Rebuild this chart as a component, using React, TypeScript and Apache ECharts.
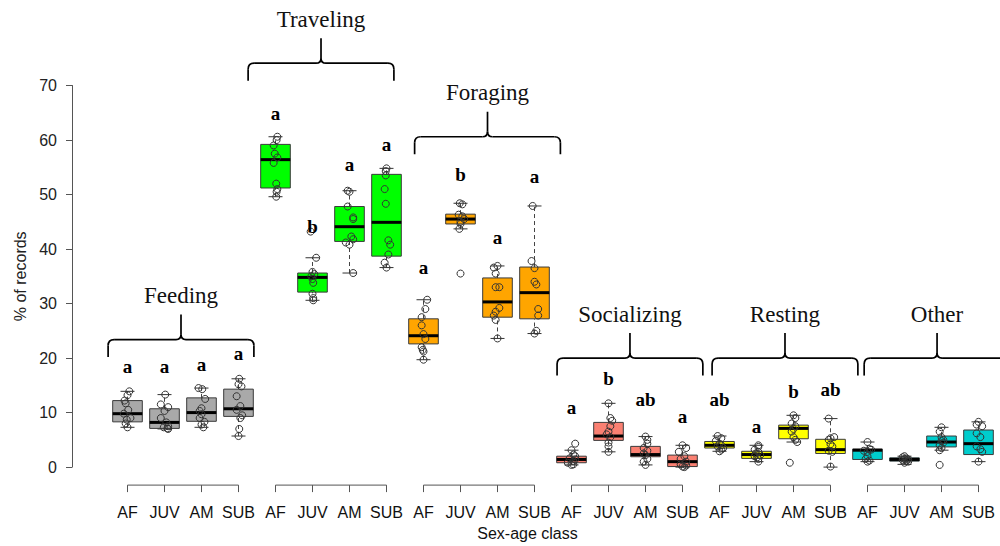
import React, { useEffect, useRef } from "react";
import * as echarts from "echarts";

const groups = ["Feeding", "Traveling", "Foraging", "Socializing", "Resting", "Other"];
const classes = ["AF", "JUV", "AM", "SUB"];
const groupColors = ["#A9A9A9", "#00FF00", "#FFA500", "#FA8072", "#FFFF00", "#00CDCD"];

const yTicks = [0, 10, 20, 30, 40, 50, 60, 70];

// [lower whisker, Q1, median, Q3, upper whisker] for each box, in order
const feedingStats = [
  [7.3, 8.3, 9.8, 12.2, 13.9],
  [7.0, 7.1, 8.2, 10.7, 13.3],
  [7.3, 8.4, 10.0, 12.7, 14.5],
  [5.7, 9.3, 10.7, 14.3, 16.2],
];
const travelingStats = [
  [49.6, 51.2, 56.4, 59.2, 60.6],
  [30.6, 32.1, 34.8, 35.6, 38.4],
  [35.6, 41.4, 44.1, 47.8, 50.7],
  [36.6, 38.7, 44.9, 53.7, 54.8],
];
const foragingStats = [
  [19.7, 22.6, 24.1, 27.2, 30.7],
  [43.7, 44.6, 45.5, 46.4, 48.4],
  [23.6, 27.5, 30.3, 34.7, 36.9],
  [24.5, 27.2, 32.0, 36.7, 47.9],
];
const socializingStats = [
  [0.4, 0.8, 1.4, 2.0, 3.1],
  [2.8, 4.9, 5.7, 8.2, 11.7],
  [0.4, 1.9, 2.3, 3.8, 5.6],
  [0.0, 0.1, 1.0, 2.2, 4.0],
];
const restingStats = [
  [2.9, 3.5, 4.0, 4.7, 5.7],
  [1.0, 1.6, 2.3, 2.9, 4.0],
  [4.6, 5.2, 7.1, 7.7, 9.5],
  [0.0, 2.5, 3.2, 5.1, 8.9],
];
const otherStats = [
  [1.0, 1.4, 3.1, 3.3, 4.6],
  [0.5, 1.1, 1.4, 1.7, 2.0],
  [3.1, 3.7, 4.6, 5.7, 7.3],
  [1.0, 2.3, 4.3, 6.8, 8.3],
];

// significance letters and their heights (% of records)
const letters = [
  "a", "a", "a", "a",
  "a", "b", "a", "a",
  "a", "b", "a", "a",
  "a", "b", "ab", "a",
  "ab", "a", "b", "ab",
  "", "", "", "",
];
const letterY = [
  18.5, 18.5, 18.8, 20.8,
  64.9, 44.1, 55.6, 59.2,
  36.7, 53.6, 42.2, 53.3,
  10.9, 16.2, 12.4, 9.3,
  12.4, 7.5, 13.8, 14.3,
  0, 0, 0, 0,
];

// individual records: [value, horizontal jitter (fraction of a slot)]
const points = [
  [[13.9, 0.05], [13.2, 0.0], [12.2, -0.08], [11.7, -0.05], [10.5, 0.02], [9.8, -0.1], [9.0, 0.08], [8.7, -0.02], [8.0, -0.05], [7.3, 0.0]],
  [[13.3, 0.02], [11.5, -0.1], [11.0, 0.1], [10.3, 0.0], [9.0, -0.1], [8.2, 0.05], [7.5, 0.1], [7.3, -0.02], [7.1, 0.08], [7.0, 0.1]],
  [[14.5, -0.08], [14.3, 0.02], [12.5, 0.1], [10.8, 0.0], [10.3, -0.05], [9.7, 0.0], [9.0, -0.05], [8.3, 0.08], [7.8, 0.0], [7.3, 0.05]],
  [[16.2, 0.02], [15.2, 0.0], [14.8, 0.08], [13.0, -0.05], [11.2, 0.05], [10.5, -0.05], [9.5, 0.1], [9.0, 0.05], [7.0, 0.02], [5.7, 0.0]],
  [[60.6, 0.05], [60.0, 0.03], [59.0, -0.05], [57.5, -0.02], [56.8, 0.05], [55.8, -0.05], [52.0, 0.02], [51.0, 0.05], [50.5, 0.03], [49.6, 0.02]],
  [[43.2, -0.05], [38.4, 0.1], [35.8, 0.0], [35.4, 0.05], [35.0, -0.03], [34.5, 0.0], [33.8, 0.02], [31.8, 0.0], [31.0, 0.02], [30.6, 0.02]],
  [[50.7, -0.05], [50.5, 0.0], [47.8, -0.05], [45.8, 0.1], [45.5, 0.1], [42.3, 0.05], [41.8, 0.1], [41.2, -0.1], [40.8, 0.0], [35.6, 0.1]],
  [[54.8, 0.0], [54.3, -0.02], [53.5, -0.02], [51.0, -0.05], [48.3, -0.02], [41.6, 0.05], [40.8, 0.1], [39.0, 0.05], [37.5, -0.05], [36.6, 0.0]],
  [[30.7, 0.1], [29.0, 0.05], [27.5, -0.05], [26.0, -0.05], [24.4, 0.0], [23.5, 0.05], [22.0, -0.05], [21.5, -0.02], [21.2, 0.0], [19.7, 0.0]],
  [[48.4, -0.02], [48.2, 0.05], [46.3, -0.05], [46.0, 0.05], [45.5, 0.1], [45.0, 0.0], [44.6, 0.0], [43.7, -0.03], [35.5, 0.0]],
  [[36.9, 0.0], [36.6, -0.1], [35.5, -0.05], [33.0, -0.05], [33.0, 0.05], [29.2, 0.05], [28.5, -0.05], [27.8, -0.1], [27.0, -0.05], [23.6, 0.0]],
  [[47.9, -0.05], [37.8, -0.08], [36.5, 0.0], [34.0, 0.0], [33.5, 0.05], [29.0, 0.1], [27.8, 0.1], [25.0, 0.05], [24.5, 0.0]],
  [[4.3, 0.1], [3.1, 0.0], [2.3, 0.05], [2.0, 0.1], [1.6, -0.05], [1.4, 0.1], [1.1, 0.05], [0.8, -0.1], [0.5, 0.05], [0.4, 0.0]],
  [[11.7, 0.0], [9.0, 0.05], [8.5, 0.1], [7.5, 0.05], [6.5, 0.0], [6.0, -0.05], [5.5, 0.05], [4.5, 0.0], [3.8, 0.0], [2.8, 0.0]],
  [[5.6, 0.0], [5.0, 0.05], [4.3, 0.05], [3.5, -0.05], [3.0, 0.05], [2.5, -0.05], [2.2, 0.0], [1.5, 0.05], [1.0, -0.05], [0.4, 0.0]],
  [[4.0, 0.0], [3.5, 0.1], [2.8, -0.1], [2.0, 0.05], [1.5, -0.05], [1.0, 0.1], [0.5, -0.05], [0.3, 0.1], [0.1, 0.0], [0.0, 0.05]],
  [[5.7, -0.05], [5.3, 0.05], [4.8, -0.1], [4.3, 0.0], [4.0, 0.05], [3.8, -0.05], [3.5, 0.1], [3.2, 0.05], [2.9, 0.0]],
  [[4.0, 0.05], [3.7, 0.05], [3.2, -0.05], [2.8, 0.05], [2.5, -0.02], [2.2, 0.1], [2.0, -0.05], [1.8, 0.02], [1.5, 0.05], [1.0, 0.05]],
  [[9.5, 0.0], [9.0, 0.05], [8.0, -0.05], [7.5, 0.05], [7.0, 0.0], [6.5, -0.05], [5.5, 0.0], [5.0, 0.05], [4.6, 0.1], [0.8, -0.1]],
  [[8.9, -0.05], [5.5, 0.1], [5.3, 0.0], [5.0, -0.05], [4.2, 0.0], [3.8, 0.05], [3.0, -0.05], [2.8, 0.05], [0.1, 0.0]],
  [[4.6, 0.0], [3.3, 0.05], [3.2, 0.1], [3.0, -0.1], [2.8, 0.0], [2.0, 0.0], [1.5, -0.05], [1.2, 0.05], [1.0, 0.0]],
  [[2.0, 0.0], [1.8, -0.05], [1.6, 0.05], [1.5, 0.0], [1.4, 0.1], [1.3, -0.05], [1.2, 0.05], [1.0, 0.1], [0.8, 0.0]],
  [[7.3, 0.0], [6.5, -0.05], [5.5, 0.0], [5.0, 0.05], [4.8, 0.0], [4.5, 0.05], [4.0, -0.05], [3.5, 0.0], [3.1, -0.05], [0.4, -0.05]],
  [[8.3, 0.0], [7.8, -0.05], [7.5, 0.1], [6.2, -0.05], [5.5, 0.05], [3.8, -0.05], [3.3, 0.05], [2.8, 0.1], [1.0, 0.0]],
];

// group braces: centre (slot index, slot 0 is an empty pad) and height of the bar (% of records)
const braceCenter = [2.446, 6.23, 10.73, 14.58, 18.77, 22.88];
const braceLevel = [23.4, 74.1, 60.6, 20.0, 20.0, 20.0];

const SANS = "'Liberation Sans', Arial, sans-serif";
const SERIF = "'Liberation Serif', 'Times New Roman', serif";

export default function App() {
  const ref = useRef<HTMLDivElement>(null);

  useEffect(() => {
    const chart = echarts.init(ref.current as HTMLDivElement, null, { renderer: "svg" });

    const allStats = [
      ...feedingStats,
      ...travelingStats,
      ...foragingStats,
      ...socializingStats,
      ...restingStats,
      ...otherStats,
    ];
    const xLabels = [""].concat(groups.flatMap(() => classes));
    const boxData = allStats.map((s, i) => [i + 1, ...s]);

    const pointList: number[][] = [];
    points.forEach((arr, i) => arr.forEach((p) => pointList.push([i + 1, p[0], p[1]])));

    const letterList: any[] = [];
    letters.forEach((l, i) => {
      if (l) letterList.push({ value: [i + 1, letterY[i]], name: l });
    });

    const braceData = braceCenter.map((c, g) => [Math.floor(c), braceLevel[g]]);
    const segData = groups.map((_, g) => [4 * g + 1, 0]);

    chart.setOption({
      animation: false,
      backgroundColor: "#ffffff",
      grid: { left: 72, right: 3, top: 85.5, bottom: 74, containLabel: false },
      xAxis: {
        type: "category",
        data: xLabels,
        boundaryGap: true,
        axisLine: { show: false },
        axisTick: { show: false },
        splitLine: { show: false },
        axisLabel: {
          interval: 0,
          margin: 37,
          fontSize: 16,
          color: "#111",
          fontFamily: SANS,
        },
        name: "Sex-age class",
        nameLocation: "middle",
        nameGap: 54,
        nameTextStyle: { fontSize: 16, color: "#111", fontFamily: SANS, padding: [0, 14, 0, 0] },
      },
      yAxis: {
        type: "value",
        min: yTicks[0],
        max: yTicks[yTicks.length - 1],
        interval: 10,
        axisLine: { show: true, lineStyle: { color: "#555", width: 1 } },
        axisTick: { show: true, length: 6, lineStyle: { color: "#555" } },
        splitLine: { show: false },
        axisLabel: { fontSize: 16, color: "#222", margin: 15, fontFamily: SANS },
        name: "% of records",
        nameLocation: "middle",
        nameRotate: 90,
        nameGap: 42,
        nameTextStyle: { fontSize: 16, color: "#222", fontFamily: SANS },
      },
      series: [
        {
          type: "custom",
          name: "boxes",
          data: boxData,
          encode: { x: 0, y: [1, 2, 3, 4, 5] },
          z: 2,
          renderItem: (params: any, api: any) => {
            const idx = params.dataIndex + 1;
            const s = allStats[params.dataIndex];
            const x = api.coord([idx, s[2]])[0];
            const hw = api.size([1, 0])[0] * 0.4;
            const y = s.map((v) => api.coord([idx, v])[1]);
            const color = groupColors[Math.floor(params.dataIndex / 4)];
            const dash = { stroke: "#444", lineWidth: 1, lineDash: [4, 3] };
            const cap = { stroke: "#333", lineWidth: 1 };
            return {
              type: "group",
              children: [
                { type: "line", shape: { x1: x, y1: y[3], x2: x, y2: y[4] }, style: dash },
                { type: "line", shape: { x1: x, y1: y[0], x2: x, y2: y[1] }, style: dash },
                { type: "line", shape: { x1: x - 7, y1: y[4], x2: x + 7, y2: y[4] }, style: cap },
                { type: "line", shape: { x1: x - 7, y1: y[0], x2: x + 7, y2: y[0] }, style: cap },
                {
                  type: "rect",
                  shape: { x: x - hw, y: y[3], width: 2 * hw, height: Math.max(1, y[1] - y[3]) },
                  style: { fill: color, stroke: "#3a3a3a", lineWidth: 1 },
                },
                { type: "line", shape: { x1: x - hw, y1: y[2], x2: x + hw, y2: y[2] }, style: { stroke: "#000", lineWidth: 3 } },
              ],
            };
          },
        },
        {
          type: "custom",
          name: "records",
          data: pointList,
          encode: { x: 0, y: 1 },
          z: 3,
          renderItem: (params: any, api: any) => {
            const p = pointList[params.dataIndex];
            const c = api.coord([p[0], p[1]]);
            const bw = api.size([1, 0])[0];
            return {
              type: "circle",
              shape: { cx: c[0] + p[2] * bw, cy: c[1], r: 3.5 },
              style: { fill: "none", stroke: "#333", lineWidth: 1 },
            };
          },
        },
        {
          type: "custom",
          name: "letters",
          data: letterList,
          encode: { x: 0, y: 1 },
          z: 4,
          renderItem: (params: any, api: any) => {
            const item = letterList[params.dataIndex];
            const c = api.coord(item.value);
            return {
              type: "text",
              style: {
                text: item.name,
                x: c[0],
                y: c[1],
                align: "center",
                verticalAlign: "middle",
                font: `bold 19px ${SERIF}`,
                fill: "#000",
              },
            };
          },
        },
        {
          type: "custom",
          name: "axisSegments",
          data: segData,
          encode: { x: 0, y: 1 },
          z: 1,
          renderItem: (params: any, api: any) => {
            const g = params.dataIndex;
            const xs = [0, 1, 2, 3].map((k) => api.coord([4 * g + 1 + k, 0])[0]);
            const y0 = api.coord([1, 0])[1] + 18;
            const st = { stroke: "#555", lineWidth: 1 };
            return {
              type: "group",
              children: [
                { type: "line", shape: { x1: xs[0], y1: y0, x2: xs[3], y2: y0 }, style: st },
                ...xs.map((x) => ({ type: "line", shape: { x1: x, y1: y0, x2: x, y2: y0 + 7 }, style: st })),
              ],
            };
          },
        },
        {
          type: "custom",
          name: "braces",
          data: braceData,
          encode: { x: 0, y: 1 },
          z: 4,
          renderItem: (params: any, api: any) => {
            const g = params.dataIndex;
            const c = braceCenter[g];
            const base = Math.floor(c);
            const bw = api.size([1, 0])[0];
            const p = api.coord([base, braceLevel[g]]);
            const x = p[0] + (c - base) * bw;
            const H = p[1];
            const half = 1.97 * bw;
            const L = x - half;
            const R = x + half;
            const B = H + 17.5;
            const T = H - 25;
            const r = 6;
            const r2 = 5;
            const st = { stroke: "#000", lineWidth: 1.7, fill: "none" };
            return {
              type: "group",
              children: [
                { type: "line", shape: { x1: L, y1: B, x2: L, y2: H + r }, style: st },
                { type: "bezierCurve", shape: { x1: L, y1: H + r, cpx1: L, cpy1: H, x2: L + r, y2: H }, style: st },
                { type: "line", shape: { x1: L + r, y1: H, x2: x - r2, y2: H }, style: st },
                { type: "bezierCurve", shape: { x1: x - r2, y1: H, cpx1: x, cpy1: H, x2: x, y2: H - r2 }, style: st },
                { type: "line", shape: { x1: x, y1: H - r2, x2: x, y2: T }, style: st },
                { type: "bezierCurve", shape: { x1: x, y1: H - r2, cpx1: x, cpy1: H, x2: x + r2, y2: H }, style: st },
                { type: "line", shape: { x1: x + r2, y1: H, x2: R - r, y2: H }, style: st },
                { type: "bezierCurve", shape: { x1: R - r, y1: H, cpx1: R, cpy1: H, x2: R, y2: H + r }, style: st },
                { type: "line", shape: { x1: R, y1: H + r, x2: R, y2: B }, style: st },
                {
                  type: "text",
                  style: {
                    text: groups[g],
                    x: x,
                    y: H - 44,
                    align: "center",
                    verticalAlign: "middle",
                    font: `23px ${SERIF}`,
                    fill: "#111",
                  },
                },
              ],
            };
          },
        },
      ],
    });

    return () => chart.dispose();
  }, []);

  return (
    <div
      ref={ref}
      style={{ position: "absolute", left: 0, top: 0, width: 1000, height: 546, background: "#fff" }}
    />
  );
}
